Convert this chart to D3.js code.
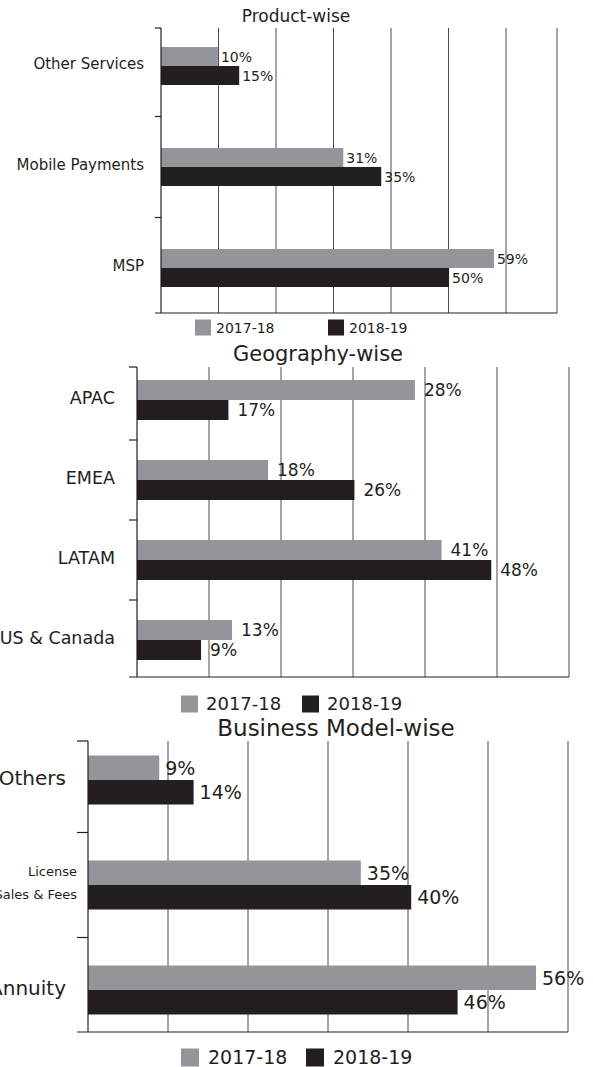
<!DOCTYPE html>
<html>
<head>
<meta charset="utf-8">
<script src="https://cdn.jsdelivr.net/npm/d3@7"></script>
<style>
  body { margin: 0; background: #fff; }
  svg { display: block; }
  text { font-family: 'DejaVu Sans', sans-serif; fill: #231f20; }
</style>
</head>
<body>
<svg id="chart" width="593" height="1067"></svg>
<script>
// series
const years = ['2017-18', '2018-19'];
const colors = ['#939598', '#231f20'];
const ticks = [0, 10, 20, 30, 40, 50, 60];

// bar lengths (the printed % labels don't always match them)
const productCats = ['Other Services', 'Mobile Payments', 'MSP'];
const product1718 = [9.9, 31.7, 57.9];
const product1819 = [13.6, 38.3, 50.1];
const product1718Labels = ['10%', '31%', '59%'];
const product1819Labels = ['15%', '35%', '50%'];

const geoCats = ['APAC', 'EMEA', 'LATAM', 'US & Canada'];
const geo1718 = [38.6, 18.2, 42.3, 13.2];
const geo1819 = [12.7, 30.2, 49.2, 8.9];
const geo1718Labels = ['28%', '18%', '41%', '13%'];
const geo1819Labels = ['17%', '26%', '48%', '9%'];

const bizCats = ['Others', 'License\nSales & Fees', 'Annuity'];
const biz1718 = [8.9, 34.1, 56];
const biz1819 = [13.2, 40.4, 46.2];
const biz1718Labels = ['9%', '35%', '56%'];
const biz1819Labels = ['14%', '40%', '46%'];

const svg = d3.select('#chart');

function drawChart(o) {
  const g = svg.append('g');
  const x = d3.scaleLinear().domain([0, 10]).range([o.left, o.left + o.step]);
  const y = d3.scaleBand().domain(o.cats).range(o.band);
  const series = [o.s1, o.s2];
  const labels = [o.l1, o.l2];

  // title
  g.append('text')
    .attr('x', o.titleX).attr('y', o.titleY)
    .attr('text-anchor', 'middle')
    .style('font-size', o.titleSize + 'px')
    .text(o.title);

  // vertical gridlines (+ the right border of the plot)
  const gridXs = ticks.slice(1).map((d) => x(d)).filter((v) => v < o.rightEdge - 3).concat([o.rightEdge]);
  g.selectAll('line.grid')
    .data(gridXs)
    .join('line')
    .attr('x1', (d) => d).attr('x2', (d) => d)
    .attr('y1', o.top).attr('y2', o.bottom)
    .attr('stroke', '#4d4d4f').attr('stroke-width', 1);

  // bars
  series.forEach((vals, si) => {
    g.selectAll('rect.s' + si)
      .data(vals)
      .join('rect')
      .attr('x', x(0))
      .attr('y', (d, i) => y(o.cats[i]) + y.bandwidth() / 2 - o.barH + si * o.barH)
      .attr('width', (d) => x(d) - x(0))
      .attr('height', o.barH)
      .attr('fill', colors[si]);

    g.selectAll('text.v' + si)
      .data(vals)
      .join('text')
      .attr('x', (d) => x(d) + o.labelGap)
      .attr('y', (d, i) => y(o.cats[i]) + y.bandwidth() / 2 - o.barH / 2 + si * o.barH)
      .attr('dy', '0.36em')
      .style('font-size', o.valueSize + 'px')
      .text((d, i) => labels[si][i]);
  });

  // y axis with ticks between categories
  g.append('line')
    .attr('x1', x(0)).attr('x2', x(0))
    .attr('y1', o.top).attr('y2', o.bottom)
    .attr('stroke', '#231f20').attr('stroke-width', 1.2);
  const tickYs = [o.top].concat(o.cats.slice(1).map((c) => y(c)));
  g.selectAll('line.ytick')
    .data(tickYs)
    .join('line')
    .attr('x1', x(0) - o.tick).attr('x2', x(0))
    .attr('y1', (d) => d).attr('y2', (d) => d)
    .attr('stroke', '#231f20').attr('stroke-width', 1.2);
  g.append('line')
    .attr('x1', x(0) - o.tick).attr('x2', o.rightEdge)
    .attr('y1', o.bottom).attr('y2', o.bottom)
    .attr('stroke', '#231f20').attr('stroke-width', 1.2);

  // category labels
  o.cats.forEach((c, i) => {
    const lines = c.split('\n');
    const small = lines.length > 1;
    const fs = small ? o.catSmall : o.catSize;
    const lh = fs * 1.75;
    const lx = x(0) - (small ? o.catGapSmall : o.catGap);
    const t = g.append('text')
      .attr('text-anchor', 'end')
      .style('font-size', fs + 'px')
      .attr('x', lx)
      .attr('y', y(c) + y.bandwidth() / 2 + o.catShift - (lines.length - 1) * lh / 2);
    lines.forEach((l, li) => {
      t.append('tspan').attr('x', lx)
        .attr('dy', li === 0 ? '0.36em' : lh + 'px').text(l);
    });
  });

  // legend
  const leg = g.selectAll('g.leg')
    .data(years)
    .join('g')
    .attr('transform', (d, i) => `translate(${o.legX[i]},${o.legY})`);
  leg.append('rect')
    .attr('x', 0).attr('y', -o.legBox / 2)
    .attr('width', o.legBox).attr('height', o.legBox)
    .attr('fill', (d, i) => colors[i]);
  leg.append('text')
    .attr('x', o.legBox + o.legGap).attr('y', 0).attr('dy', '0.36em')
    .style('font-size', o.legSize + 'px')
    .text((d) => d);
}

drawChart({
  title: 'Product-wise', titleX: 296, titleY: 22, titleSize: 17,
  cats: productCats, s1: product1718, s2: product1819, l1: product1718Labels, l2: product1819Labels,
  left: 161, step: 57.5, rightEdge: 557, top: 28, bottom: 313, band: [15.5, 318.5], barH: 19,
  tick: 6, labelGap: 3, valueSize: 14, catSize: 15, catGap: 17, catShift: -2,
  legX: [195, 328], legY: 327.5, legBox: 16, legGap: 5, legSize: 14
});

drawChart({
  title: 'Geography-wise', titleX: 318, titleY: 361, titleSize: 21,
  cats: geoCats, s1: geo1718, s2: geo1819, l1: geo1718Labels, l2: geo1819Labels,
  left: 137, step: 72, rightEdge: 569, top: 367, bottom: 677, band: [360, 680], barH: 20,
  tick: 8, labelGap: 9, valueSize: 17, catSize: 17.5, catGap: 22, catShift: -2,
  legX: [181, 302], legY: 704, legBox: 17, legGap: 8, legSize: 18
});

drawChart({
  title: 'Business Model-wise', titleX: 336, titleY: 736, titleSize: 23,
  cats: bizCats, s1: biz1718, s2: biz1819, l1: biz1718Labels, l2: biz1819Labels,
  left: 88, step: 80, rightEdge: 568, top: 741, bottom: 1032, band: [727.5, 1042.5], barH: 24.5,
  tick: 11, labelGap: 6, valueSize: 19, catSize: 20, catGap: 22, catSmall: 13, catGapSmall: 11, catShift: -2,
  legX: [181, 306], legY: 1057.5, legBox: 18, legGap: 9, legSize: 19
});
</script>
</body>
</html>
